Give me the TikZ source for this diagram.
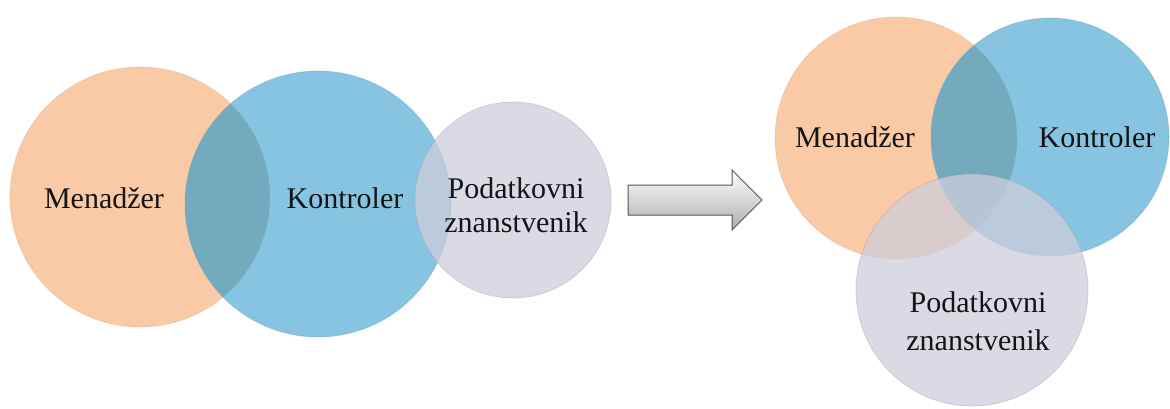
\documentclass[tikz,border=0pt]{standalone}
\usepackage{fontspec}
\setmainfont{Liberation Serif}
\newfontfamily\timesfont{Liberation Serif}
\definecolor{peach}{RGB}{250,202,166}
\definecolor{sky}{RGB}{135,196,225}
\definecolor{tealmix}{RGB}{115,170,190}
\definecolor{lav}{RGB}{206,206,219}
\definecolor{arrowedge}{RGB}{85,85,85}
\begin{document}
\begin{tikzpicture}[x=1pt,y=-1pt,
  circ/.style={circle, inner sep=0pt, minimum size=#1},
  rim/.style={draw=#1, draw opacity=0.25, line width=1pt},
  lbl/.style={font=\timesfont\fontsize{30}{34}\selectfont, align=center, text=black!92},
  lbltwo/.style={font=\timesfont\fontsize{30}{38}\selectfont, align=center, text=black!92},
]
\fill[white] (0,0) rectangle (1170,409);
\useasboundingbox (0,0) rectangle (1170,409);

% ---------- left group ----------
\node[circ=260pt, fill=peach, rim=peach!80!black] (m1) at (140,197) {};
\node[circ=266pt, fill=sky, rim=sky!75!black] (k1) at (318,204) {};
\begin{scope}
  \clip (m1.center) circle[radius=130pt];
  \fill[tealmix] (k1.center) circle[radius=133pt];
\end{scope}
\node[circ=196pt, fill=lav, fill opacity=0.75, rim=lav!70!black] (p1) at (513,200) {};

\node[lbl] (t1) at (104,198) {Menadžer};
\node[lbl] (t2) at (345,198) {Kontroler};
\node[lbl] (t3) at (516,205) {Podatkovni\\znanstvenik};

% ---------- arrow ----------
\shade[top color=white, bottom color=black!32, draw=arrowedge, line width=1pt]
  (628,185) -- (732,185) -- (732,170) -- (762,200) -- (732,230) -- (732,215) -- (628,215) -- cycle;

% ---------- right group ----------
\node[circ=242pt, fill=peach, rim=peach!80!black] (m2) at (896,138) {};
\node[circ=238pt, fill=sky, rim=sky!75!black] (k2) at (1050,137) {};
\begin{scope}
  \clip (m2.center) circle[radius=121pt];
  \fill[tealmix] (k2.center) circle[radius=119pt];
\end{scope}
\node[circ=232pt, fill=lav, fill opacity=0.75, rim=lav!70!black] (p2) at (972,290) {};

\node[lbl] (t4) at (855,137) {Menadžer};
\node[lbl] (t5) at (1097,137) {Kontroler};
\node[lbltwo] (t6) at (978,321) {Podatkovni\\znanstvenik};
\end{tikzpicture}
\end{document}
